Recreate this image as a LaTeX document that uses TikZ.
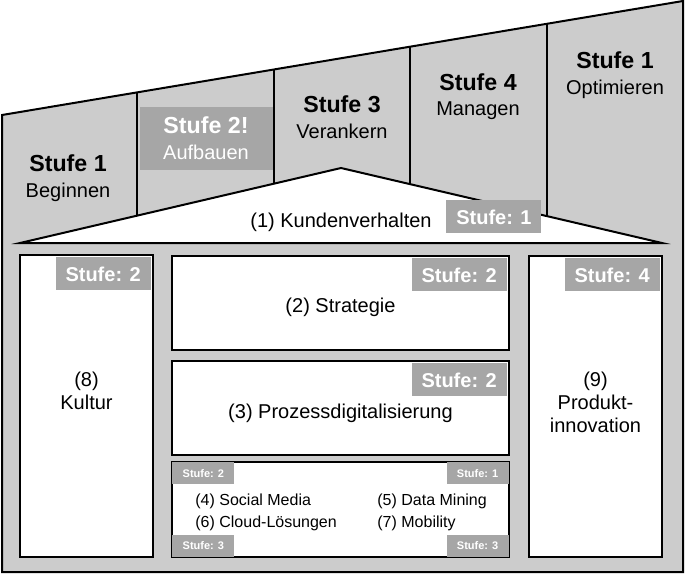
\documentclass[tikz,border=0pt]{standalone}
\usepackage{fontspec}
\setmainfont{Liberation Sans}
\usetikzlibrary{positioning}
\definecolor{hausgrau}{gray}{0.8}
\definecolor{stufengrau}{gray}{0.65}
\tikzset{
  kasten/.style={draw, fill=white, line width=1pt, inner sep=0pt, font=\fontsize{10}{11.5}\selectfont, align=center},
  titel/.style={font=\fontsize{11.6}{14}\selectfont\bfseries, anchor=base, inner sep=0pt},
  untertitel/.style={font=\fontsize{10}{12}\selectfont, anchor=base, inner sep=0pt},
  textlabel/.style={font=\fontsize{10}{11.5}\selectfont, align=center},
  kleintext/.style={font=\fontsize{8}{10}\selectfont, anchor=base west, inner sep=0pt},
  stufe/.style={fill=stufengrau, text=white, font=\fontsize{10}{12}\selectfont\bfseries, minimum width=47.5pt, minimum height=16.5pt, inner sep=0pt},
  stufeklein/.style={fill=stufengrau, text=white, font=\fontsize{5.5}{6}\selectfont\bfseries, minimum width=31pt, minimum height=11pt, inner sep=0pt}
}
\begin{document}
\begin{tikzpicture}[x=0.5pt, y=-0.5pt]
  \useasboundingbox (0,0) rectangle (685,574);
  % Haus
  \draw[fill=hausgrau, line width=1pt] (2,115) -- (683,1) -- (683,572) -- (2,572) -- cycle;
  % Stufen oben
  \fill[stufengrau] (140,107) rectangle (273,170);
  \foreach \x/\y in {137/217, 274/185, 410/185, 547/217}
    \draw[line width=1pt] (\x,{115-\x*0.1674}) -- (\x,\y);
  \node[titel] (titel1) at (68,171) {Stufe 1};
  \node[untertitel] (beginnen) at (68,197) {Beginnen};
  \node[titel, text=white] (titel2) at (206,133) {Stufe 2!};
  \node[untertitel, text=white] (aufbauen) at (206,159) {Aufbauen};
  \node[titel] (titel3) at (342,112) {Stufe 3};
  \node[untertitel] (verankern) at (342,138) {Verankern};
  \node[titel] (titel4) at (478,90) {Stufe 4};
  \node[untertitel] (managen) at (478,115) {Managen};
  \node[titel] (titel5) at (615,68) {Stufe 1};
  \node[untertitel] (optimieren) at (615,94) {Optimieren};
  % Dach
  \draw[fill=white, line width=1pt] (20,243) -- (341,168) -- (662,243) -- cycle;
  \node[textlabel, anchor=base west, inner sep=0pt] (kunde) at (250,227) {(1) Kundenverhalten};
  \node[stufe, anchor=north west] (kundestufe) at (446,200) {Stufe: 1};
  % Saeulen
  \node[kasten, minimum width=66.5pt, minimum height=151pt] (kultur) at (86.5,406) {};
  \node[textlabel] (kulturtext) at ([yshift=7.5pt]kultur.center) {(8)\\Kultur};
  \node[stufe, anchor=north east] (kulturstufe) at ([xshift=-1.5pt,yshift=-1.5pt]kultur.north east) {Stufe: 2};
  \node[kasten, minimum width=66.5pt, minimum height=150.5pt] (produkt) at (595.5,406.5) {};
  \node[textlabel] (produkttext) at ([yshift=2pt]produkt.center) {(9)\\Produkt-\\innovation};
  \node[stufe, anchor=north east] (produktstufe) at ([xshift=-1.5pt,yshift=-1.5pt]produkt.north east) {Stufe: 4};
  % Mitte
  \node[kasten, minimum width=168.5pt, minimum height=47pt] (strategie) at (340.5,303) {};
  \node[textlabel] (strategietext) at ([yshift=-2pt]strategie.center) {(2) Strategie};
  \node[stufe, anchor=north east] (strategiestufe) at ([xshift=-1.5pt,yshift=-1.5pt]strategie.north east) {Stufe: 2};
  \node[kasten, minimum width=168.5pt, minimum height=47pt] (prozess) at (340.5,408) {};
  \node[textlabel] (prozesstext) at ([yshift=-2.5pt]prozess.center) {(3) Prozessdigitalisierung};
  \node[stufe, anchor=north east] (prozessstufe) at ([xshift=-1.5pt,yshift=-1.5pt]prozess.north east) {Stufe: 2};
  \node[kasten, minimum width=168.5pt, minimum height=47.5pt] (technik) at (340.5,509.5) {};
  \node[kleintext] (social) at (195,505) {(4) Social Media};
  \node[kleintext] (mining) at (377,505) {(5) Data Mining};
  \node[kleintext] (cloud) at (195,527) {(6) Cloud-Lösungen};
  \node[kleintext] (mobility) at (377,527) {(7) Mobility};
  \node[stufeklein, anchor=north west] (socialstufe) at ([xshift=0.5pt,yshift=-0.5pt]technik.north west) {Stufe: 2};
  \node[stufeklein, anchor=north east] (miningstufe) at ([xshift=-0.5pt,yshift=-0.5pt]technik.north east) {Stufe: 1};
  \node[stufeklein, anchor=south west] (cloudstufe) at ([xshift=0.5pt,yshift=0.5pt]technik.south west) {Stufe: 3};
  \node[stufeklein, anchor=south east] (mobilitystufe) at ([xshift=-0.5pt,yshift=0.5pt]technik.south east) {Stufe: 3};
\end{tikzpicture}
\end{document}
